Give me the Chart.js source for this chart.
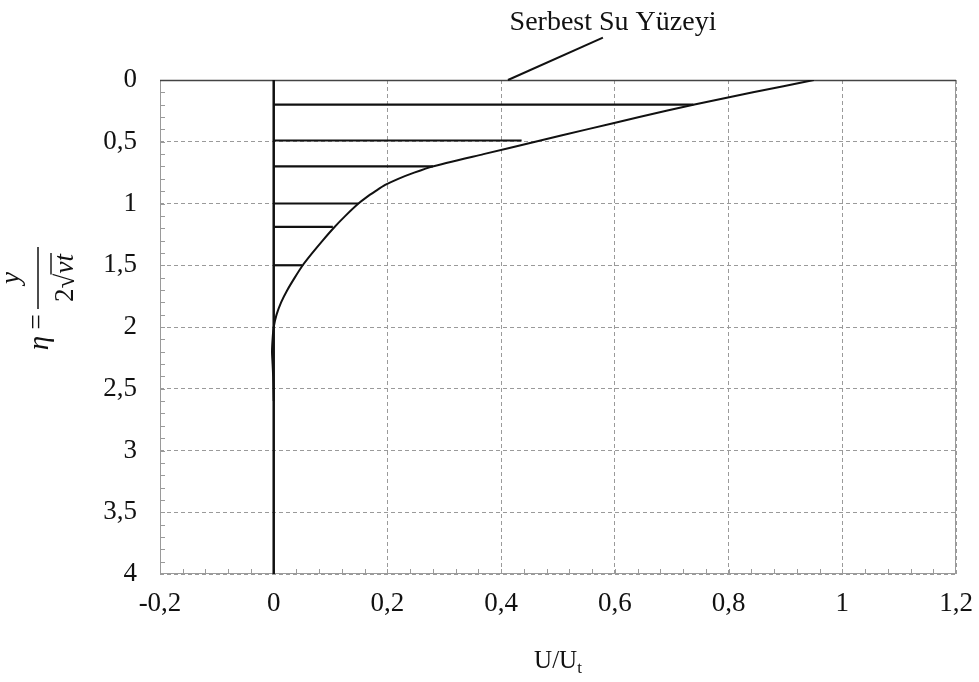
<!DOCTYPE html>
<html>
<head>
<meta charset="utf-8">
<script src="https://cdn.jsdelivr.net/npm/chart.js@4.4.1/dist/chart.umd.min.js"></script>
<style>
  html, body { margin: 0; padding: 0; background: #fff; }
  #wrap { width: 979px; height: 682px; }
</style>
</head>
<body>
<div id="wrap"><canvas id="chart" width="979" height="682"></canvas></div>
<script>
// velocity profile (eta down, U/Ut across)
const profileEta = [0, 0.1, 0.2, 0.3, 0.4, 0.5, 0.6, 0.7, 0.75, 0.8, 0.85, 0.9, 0.95, 1.0, 1.1, 1.2, 1.3, 1.4, 1.5, 1.6, 1.7, 1.8, 1.9, 2.0, 2.1, 2.2, 2.3, 2.4, 2.6];
const profileU = [0.95, 0.843, 0.738, 0.643, 0.551, 0.46, 0.369, 0.279, 0.247, 0.219, 0.196, 0.179, 0.163, 0.149, 0.126, 0.105, 0.086, 0.068, 0.051, 0.037, 0.024, 0.013, 0.005, 0.0, -0.002, -0.003, -0.002, -0.001, 0];

// horizontal hatch lines from the wall out to the profile
const hatchEta = [0.2, 0.49, 0.7, 1.0, 1.19, 1.5];
const hatchU = [0.738, 0.436, 0.28, 0.149, 0.104, 0.05];

// the wall at U = 0
const wallEta = [0, 4];

// leader line for the free-surface note
const leaderU = [0.412, 0.579];
const leaderEta = [0, -0.343];

const xTicks = { min: -0.2, max: 1.2, step: 0.2 };
const yTicks = { min: 0, max: 4, step: 0.5 };

const noteText = "Serbest Su Yüzeyi";
const xTitle = "U/U";
const xTitleSub = "t";

const SERIF = '"Liberation Serif", "Times New Roman", serif';
const INK = "#111";

function comma(v) {
  return String(Number(v.toFixed(2))).replace(".", ",");
}

function line(xs, ys, width) {
  return {
    data: xs.map((x, i) => ({ x, y: ys[i] })),
    showLine: true,
    borderColor: INK,
    borderWidth: width,
    pointRadius: 0,
    tension: 0,
    fill: false
  };
}

const datasets = [];
hatchEta.forEach((eta, i) => datasets.push(line([0, hatchU[i]], [eta, eta], 2.2)));
datasets.push(line(wallEta.map(() => 0), wallEta, 2.5));
datasets.push(Object.assign(line(profileU, profileEta, 2), { tension: 0.2 }));
datasets.push(Object.assign(line(leaderU, leaderEta, 2), { clip: false }));

const decor = {
  id: "decor",
  beforeDatasetsDraw(chart) {
    const { ctx, chartArea: a, scales: { x, y } } = chart;
    ctx.save();
    ctx.strokeStyle = "#9a9a9a";
    ctx.lineWidth = 1;
    ctx.beginPath();
    // minor ticks: 0.1 on eta, 0.04 on U
    for (let k = 1; k < 40; k += 1) {
      const py = Math.round(y.getPixelForValue(k / 10)) + 0.5;
      ctx.moveTo(a.left, py);
      ctx.lineTo(a.left + 5, py);
    }
    for (let k = 1; k < 35; k += 1) {
      const px = Math.round(x.getPixelForValue(-0.2 + k * 0.04)) + 0.5;
      ctx.moveTo(px, a.bottom);
      ctx.lineTo(px, a.bottom - 5);
    }
    ctx.stroke();
    ctx.strokeRect(Math.round(a.left) + 0.5, Math.round(a.top) + 0.5, Math.round(a.width) - 1, Math.round(a.height) - 1);
    // free surface line along the top
    ctx.strokeStyle = "#444";
    ctx.lineWidth = 1.5;
    ctx.beginPath();
    ctx.moveTo(a.left, a.top + 0.5);
    ctx.lineTo(a.right, a.top + 0.5);
    ctx.stroke();
    ctx.restore();
  },
  afterDraw(chart) {
    const { ctx, chartArea: a } = chart;
    ctx.save();
    ctx.fillStyle = INK;

    // note above the plot
    ctx.font = "28px " + SERIF;
    ctx.textAlign = "center";
    ctx.textBaseline = "alphabetic";
    ctx.fillText(noteText, 613, 30);

    // x title U/Ut
    ctx.font = "25px " + SERIF;
    const w1 = ctx.measureText(xTitle).width;
    ctx.font = "17px " + SERIF;
    const w2 = ctx.measureText(xTitleSub).width;
    const cx = (a.left + a.right) / 2;
    let sx = cx - (w1 + w2) / 2;
    ctx.textAlign = "left";
    ctx.font = "25px " + SERIF;
    ctx.fillText(xTitle, sx, 668);
    ctx.font = "17px " + SERIF;
    ctx.fillText(xTitleSub, sx + w1, 673);

    // y title: eta = y / (2 sqrt(nu t)), rotated
    ctx.translate(38, 300);
    ctx.rotate(-Math.PI / 2);
    ctx.textAlign = "center";
    ctx.textBaseline = "middle";
    ctx.font = "italic 29px " + SERIF;
    ctx.fillText("η", -43, 2);
    ctx.font = "27px " + SERIF;
    ctx.fillText("=", -22, 0);
    ctx.strokeStyle = INK;
    ctx.lineWidth = 1.5;
    ctx.beginPath();
    ctx.moveTo(-9, 0);
    ctx.lineTo(53, 0);
    ctx.stroke();
    ctx.textBaseline = "alphabetic";
    ctx.font = "italic 27px " + SERIF;
    ctx.fillText("y", 22, -19);
    // denominator
    ctx.textAlign = "left";
    ctx.font = "27px " + SERIF;
    const wTwo = ctx.measureText("2").width;
    ctx.font = "27px " + SERIF;
    const wRad = ctx.measureText("√").width;
    ctx.font = "italic 27px " + SERIF;
    const wNu = ctx.measureText("νt").width;
    let u = 22 - (wTwo + wRad + wNu) / 2;
    ctx.font = "27px " + SERIF;
    ctx.fillText("2", u, 35);
    u += wTwo;
    ctx.fillText("√", u, 36);
    u += wRad;
    ctx.font = "italic 27px " + SERIF;
    ctx.fillText("νt", u, 35);
    ctx.lineWidth = 1.4;
    ctx.beginPath();
    ctx.moveTo(u - 1, 13);
    ctx.lineTo(u + wNu + 1, 13);
    ctx.stroke();
    ctx.restore();
  }
};

const tickFont = { family: SERIF, size: 27 };

new Chart(document.getElementById("chart"), {
  type: "scatter",
  data: { datasets },
  options: {
    responsive: false,
    animation: false,
    events: [],
    layout: { padding: { top: 80, right: 23, left: 0, bottom: 0 } },
    plugins: { legend: { display: false }, tooltip: { enabled: false } },
    scales: {
      x: {
        type: "linear",
        min: xTicks.min,
        max: xTicks.max,
        afterFit: (s) => { s.height = 108; s.paddingLeft = 0; s.paddingRight = 0; },
        ticks: {
          stepSize: xTicks.step,
          color: INK,
          font: tickFont,
          padding: 14,
          maxRotation: 0,
          autoSkip: false,
          callback: (v) => comma(v)
        },
        grid: { color: "#9a9a9a", lineWidth: 1, drawTicks: false },
        border: { display: false, dash: [4, 3] }
      },
      y: {
        type: "linear",
        reverse: true,
        min: yTicks.min,
        max: yTicks.max,
        afterFit: (s) => { s.width = 160; s.paddingTop = 0; s.paddingBottom = 0; },
        ticks: {
          stepSize: yTicks.step,
          color: INK,
          font: tickFont,
          padding: 23,
          autoSkip: false,
          callback: (v) => comma(v)
        },
        grid: { color: "#9a9a9a", lineWidth: 1, drawTicks: false },
        border: { display: false, dash: [4, 3] }
      }
    }
  },
  plugins: [decor]
});
</script>
</body>
</html>
